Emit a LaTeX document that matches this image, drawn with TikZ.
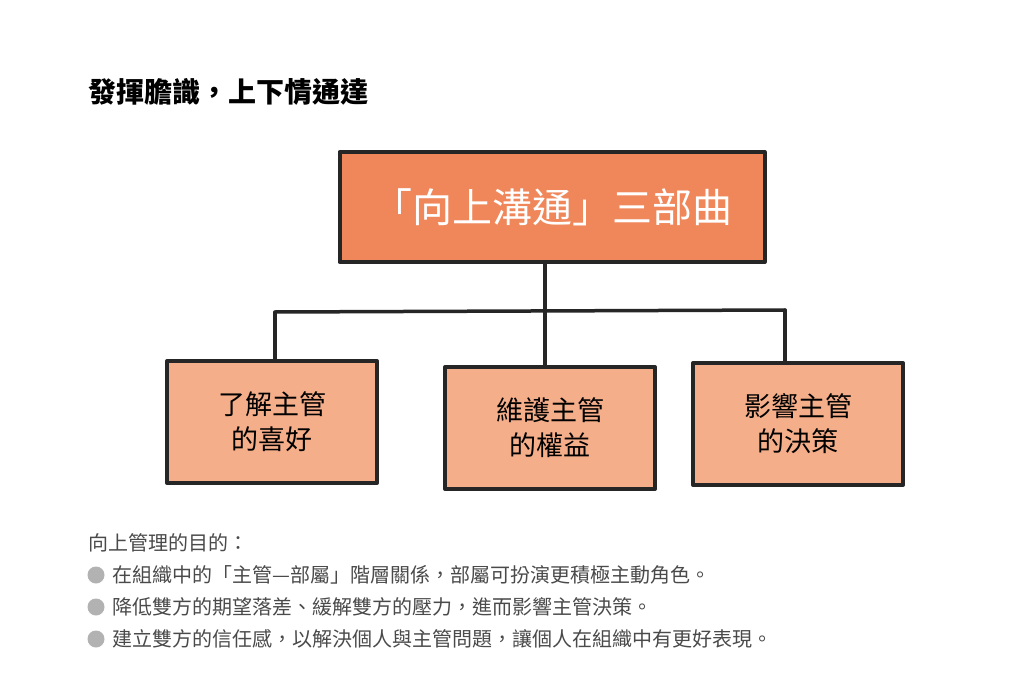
\documentclass[tikz,border=0pt]{standalone}
\usepackage{fontspec}
\setmainfont{Noto Sans CJK TC}
\newfontfamily\medfont{Noto Sans CJK TC Medium}
\definecolor{mainor}{HTML}{F0875A}
\definecolor{lightor}{HTML}{F5AE8A}
\definecolor{txtgray}{HTML}{4A4A4A}
\tikzset{
 hand/.style={draw=black!85,line width=4pt,line join=round},
 sub/.style={hand,fill=lightor,minimum width=210pt,minimum height=122pt,align=center,font=\fontsize{27}{35}\selectfont},
 bul/.style={anchor=west,text=txtgray,font=\fontsize{20}{24}\selectfont,inner sep=0pt},
 conn/.style={draw=black!85,line width=3.5pt,line cap=round}
}
\begin{document}
\begin{tikzpicture}[x=1pt,y=-1pt]
\useasboundingbox[fill=white] (0,0) rectangle (1024,690);
\node[anchor=west,inner sep=0pt,font=\fontsize{28}{32}\selectfont\bfseries] (title) at (88,92) {發揮膽識，上下情通達};
\node[hand,fill=mainor,minimum width=425pt,minimum height=110pt,text=white,font=\fontsize{40}{46}\selectfont] (main) at (552,207) {「向上溝通」三部曲};
\node[sub] (b1) at (272,422) {了解主管\\的喜好};
\node[sub] (b2) at (550,428) {維護主管\\的權益};
\node[sub] (b3) at (798,424) {影響主管\\的決策};
\coordinate (j) at (545,312);
\coordinate (l) at (275,312);
\coordinate (r) at (785,310);
\draw[conn] (main.south -| j) -- (j);
\draw[conn] (l) -- (r);
\draw[conn] (l) -- (l |- b1.north);
\draw[conn] (j) -- (j |- b2.north);
\draw[conn] (r) -- (r |- b3.north);
\node[bul] (t0) at (88,543) {向上管理的目的：};
\foreach \y/\t [count=\i] in {575/在組織中的「主管—部屬」階層關係，部屬可扮演更積極主動角色。,607/降低雙方的期望落差、緩解雙方的壓力，進而影響主管決策。,639/建立雙方的信任感，以解決個人與主管問題，讓個人在組織中有更好表現。}{
 \fill[black!30] (96,\y) circle (8.5pt);
 \node[bul] (t\i) at (112,\y) {\t};
}
\end{tikzpicture}
\end{document}
